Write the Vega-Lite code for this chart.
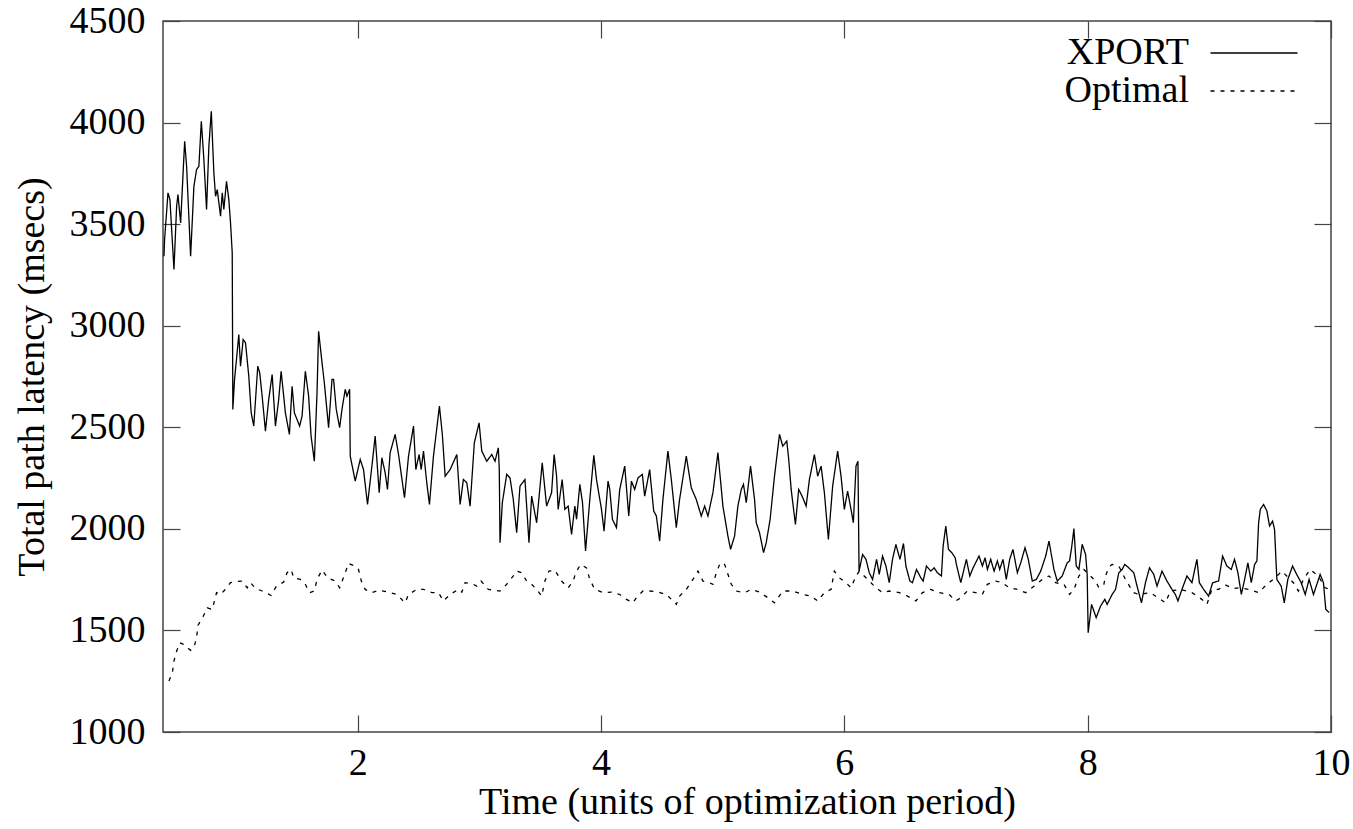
{
  "$schema": "https://vega.github.io/schema/vega-lite/v6.json",
  "autosize": {"type": "none"},
  "padding": {"left": 163, "top": 21, "right": 22, "bottom": 97},
  "width": 1168,
  "height": 711,
  "background": "white",
  "config": {
    "font": "Liberation Serif",
    "view": {"stroke": "#444", "strokeWidth": 1.5},
    "axis": {
      "grid": false,
      "domain": false,
      "tickColor": "#444",
      "tickWidth": 1.2,
      "tickSize": -17,
      "labelFont": "Liberation Serif",
      "labelFontSize": 38,
      "labelColor": "#000",
      "titleFont": "Liberation Serif",
      "titleFontSize": 38,
      "titleFontWeight": "normal",
      "titleColor": "#000"
    },
    "legend": {
      "labelFont": "Liberation Serif",
      "labelFontSize": 38,
      "labelColor": "#000"
    }
  },
  "data": {
    "values": [
      {"t":0.408,"v":3342,"s":"XPORT"},{"t":0.413,"v":3424,"s":"XPORT"},{"t":0.441,"v":3654,"s":"XPORT"},{"t":0.457,"v":3621,"s":"XPORT"},{"t":0.490,"v":3277,"s":"XPORT"},{"t":0.512,"v":3588,"s":"XPORT"},{"t":0.523,"v":3646,"s":"XPORT"},{"t":0.545,"v":3506,"s":"XPORT"},{"t":0.578,"v":3908,"s":"XPORT"},{"t":0.594,"v":3785,"s":"XPORT"},{"t":0.627,"v":3342,"s":"XPORT"},{"t":0.654,"v":3686,"s":"XPORT"},{"t":0.676,"v":3769,"s":"XPORT"},{"t":0.695,"v":3785,"s":"XPORT"},{"t":0.715,"v":4006,"s":"XPORT"},{"t":0.736,"v":3818,"s":"XPORT"},{"t":0.758,"v":3572,"s":"XPORT"},{"t":0.777,"v":3883,"s":"XPORT"},{"t":0.797,"v":4056,"s":"XPORT"},{"t":0.818,"v":3753,"s":"XPORT"},{"t":0.832,"v":3637,"s":"XPORT"},{"t":0.846,"v":3670,"s":"XPORT"},{"t":0.873,"v":3539,"s":"XPORT"},{"t":0.887,"v":3654,"s":"XPORT"},{"t":0.900,"v":3572,"s":"XPORT"},{"t":0.922,"v":3711,"s":"XPORT"},{"t":0.941,"v":3621,"s":"XPORT"},{"t":0.955,"v":3506,"s":"XPORT"},{"t":0.969,"v":3359,"s":"XPORT"},
      {"t":0.974,"v":2588,"s":"XPORT"},{"t":0.988,"v":2736,"s":"XPORT"},{"t":1.004,"v":2834,"s":"XPORT"},{"t":1.023,"v":2957,"s":"XPORT"},{"t":1.037,"v":2801,"s":"XPORT"},{"t":1.059,"v":2932,"s":"XPORT"},{"t":1.078,"v":2916,"s":"XPORT"},{"t":1.105,"v":2752,"s":"XPORT"},{"t":1.125,"v":2571,"s":"XPORT"},{"t":1.146,"v":2506,"s":"XPORT"},{"t":1.179,"v":2801,"s":"XPORT"},{"t":1.195,"v":2768,"s":"XPORT"},{"t":1.215,"v":2653,"s":"XPORT"},{"t":1.242,"v":2481,"s":"XPORT"},{"t":1.269,"v":2637,"s":"XPORT"},{"t":1.297,"v":2760,"s":"XPORT"},{"t":1.324,"v":2506,"s":"XPORT"},{"t":1.351,"v":2637,"s":"XPORT"},{"t":1.371,"v":2776,"s":"XPORT"},{"t":1.406,"v":2571,"s":"XPORT"},{"t":1.439,"v":2465,"s":"XPORT"},{"t":1.461,"v":2702,"s":"XPORT"},{"t":1.480,"v":2571,"s":"XPORT"},{"t":1.523,"v":2506,"s":"XPORT"},{"t":1.543,"v":2555,"s":"XPORT"},{"t":1.570,"v":2776,"s":"XPORT"},{"t":1.597,"v":2653,"s":"XPORT"},{"t":1.617,"v":2457,"s":"XPORT"},{"t":1.644,"v":2333,"s":"XPORT"},{"t":1.666,"v":2670,"s":"XPORT"},{"t":1.679,"v":2973,"s":"XPORT"},{"t":1.707,"v":2818,"s":"XPORT"},{"t":1.726,"v":2719,"s":"XPORT"},{"t":1.761,"v":2498,"s":"XPORT"},{"t":1.789,"v":2736,"s":"XPORT"},{"t":1.802,"v":2736,"s":"XPORT"},{"t":1.824,"v":2588,"s":"XPORT"},{"t":1.852,"v":2498,"s":"XPORT"},{"t":1.871,"v":2588,"s":"XPORT"},{"t":1.898,"v":2687,"s":"XPORT"},{"t":1.912,"v":2653,"s":"XPORT"},{"t":1.934,"v":2687,"s":"XPORT"},{"t":1.939,"v":2358,"s":"XPORT"},{"t":1.961,"v":2292,"s":"XPORT"},{"t":1.980,"v":2235,"s":"XPORT"},{"t":2.021,"v":2342,"s":"XPORT"},{"t":2.048,"v":2292,"s":"XPORT"},{"t":2.081,"v":2120,"s":"XPORT"},
      {"t":2.117,"v":2309,"s":"XPORT"},{"t":2.144,"v":2457,"s":"XPORT"},{"t":2.177,"v":2178,"s":"XPORT"},{"t":2.199,"v":2350,"s":"XPORT"},{"t":2.226,"v":2276,"s":"XPORT"},{"t":2.245,"v":2194,"s":"XPORT"},{"t":2.267,"v":2375,"s":"XPORT"},{"t":2.308,"v":2465,"s":"XPORT"},{"t":2.336,"v":2366,"s":"XPORT"},{"t":2.385,"v":2153,"s":"XPORT"},{"t":2.418,"v":2358,"s":"XPORT"},{"t":2.459,"v":2506,"s":"XPORT"},{"t":2.478,"v":2292,"s":"XPORT"},{"t":2.505,"v":2366,"s":"XPORT"},{"t":2.522,"v":2292,"s":"XPORT"},{"t":2.541,"v":2383,"s":"XPORT"},{"t":2.568,"v":2227,"s":"XPORT"},{"t":2.590,"v":2120,"s":"XPORT"},{"t":2.623,"v":2358,"s":"XPORT"},{"t":2.672,"v":2604,"s":"XPORT"},{"t":2.696,"v":2465,"s":"XPORT"},{"t":2.719,"v":2259,"s":"XPORT"},{"t":2.760,"v":2292,"s":"XPORT"},{"t":2.815,"v":2366,"s":"XPORT"},{"t":2.842,"v":2120,"s":"XPORT"},{"t":2.869,"v":2243,"s":"XPORT"},{"t":2.897,"v":2227,"s":"XPORT"},{"t":2.924,"v":2112,"s":"XPORT"},{"t":2.959,"v":2424,"s":"XPORT"},{"t":2.998,"v":2522,"s":"XPORT"},{"t":3.020,"v":2383,"s":"XPORT"},{"t":3.061,"v":2333,"s":"XPORT"},{"t":3.102,"v":2366,"s":"XPORT"},{"t":3.129,"v":2333,"s":"XPORT"},{"t":3.156,"v":2399,"s":"XPORT"},{"t":3.164,"v":2292,"s":"XPORT"},{"t":3.170,"v":1932,"s":"XPORT"},{"t":3.189,"v":2129,"s":"XPORT"},{"t":3.225,"v":2268,"s":"XPORT"},{"t":3.252,"v":2251,"s":"XPORT"},{"t":3.279,"v":2145,"s":"XPORT"},{"t":3.307,"v":1981,"s":"XPORT"},{"t":3.334,"v":2210,"s":"XPORT"},{"t":3.375,"v":2243,"s":"XPORT"},{"t":3.408,"v":1932,"s":"XPORT"},{"t":3.430,"v":2161,"s":"XPORT"},{"t":3.471,"v":2030,"s":"XPORT"},{"t":3.517,"v":2325,"s":"XPORT"},{"t":3.553,"v":2112,"s":"XPORT"},{"t":3.594,"v":2178,"s":"XPORT"},{"t":3.615,"v":2366,"s":"XPORT"},
      {"t":3.635,"v":2259,"s":"XPORT"},{"t":3.648,"v":2096,"s":"XPORT"},{"t":3.681,"v":2243,"s":"XPORT"},{"t":3.703,"v":2096,"s":"XPORT"},{"t":3.730,"v":2112,"s":"XPORT"},{"t":3.758,"v":1973,"s":"XPORT"},{"t":3.785,"v":2112,"s":"XPORT"},{"t":3.799,"v":2047,"s":"XPORT"},{"t":3.826,"v":2219,"s":"XPORT"},{"t":3.848,"v":2129,"s":"XPORT"},{"t":3.873,"v":1891,"s":"XPORT"},{"t":3.908,"v":2145,"s":"XPORT"},{"t":3.941,"v":2362,"s":"XPORT"},{"t":3.963,"v":2243,"s":"XPORT"},{"t":4.004,"v":2096,"s":"XPORT"},{"t":4.025,"v":1989,"s":"XPORT"},{"t":4.058,"v":2235,"s":"XPORT"},{"t":4.072,"v":2194,"s":"XPORT"},{"t":4.094,"v":2047,"s":"XPORT"},{"t":4.127,"v":2006,"s":"XPORT"},{"t":4.154,"v":2194,"s":"XPORT"},{"t":4.195,"v":2309,"s":"XPORT"},{"t":4.228,"v":2063,"s":"XPORT"},{"t":4.250,"v":2235,"s":"XPORT"},{"t":4.277,"v":2194,"s":"XPORT"},{"t":4.304,"v":2251,"s":"XPORT"},{"t":4.340,"v":2268,"s":"XPORT"},{"t":4.359,"v":2161,"s":"XPORT"},{"t":4.400,"v":2292,"s":"XPORT"},{"t":4.433,"v":2088,"s":"XPORT"},{"t":4.455,"v":2063,"s":"XPORT"},{"t":4.482,"v":1940,"s":"XPORT"},{"t":4.509,"v":2145,"s":"XPORT"},{"t":4.550,"v":2383,"s":"XPORT"},{"t":4.578,"v":2243,"s":"XPORT"},{"t":4.619,"v":2006,"s":"XPORT"},{"t":4.646,"v":2145,"s":"XPORT"},{"t":4.701,"v":2358,"s":"XPORT"},{"t":4.742,"v":2202,"s":"XPORT"},{"t":4.783,"v":2145,"s":"XPORT"},{"t":4.824,"v":2063,"s":"XPORT"},{"t":4.852,"v":2112,"s":"XPORT"},{"t":4.879,"v":2063,"s":"XPORT"},{"t":4.920,"v":2178,"s":"XPORT"},{"t":4.961,"v":2375,"s":"XPORT"},{"t":5.002,"v":2112,"s":"XPORT"},{"t":5.043,"v":1965,"s":"XPORT"},{"t":5.065,"v":1899,"s":"XPORT"},{"t":5.098,"v":1965,"s":"XPORT"},{"t":5.125,"v":2112,"s":"XPORT"},{"t":5.153,"v":2194,"s":"XPORT"},{"t":5.171,"v":2219,"s":"XPORT"},{"t":5.194,"v":2129,"s":"XPORT"},{"t":5.229,"v":2309,"s":"XPORT"},{"t":5.262,"v":2145,"s":"XPORT"},
      {"t":5.276,"v":2030,"s":"XPORT"},{"t":5.303,"v":1981,"s":"XPORT"},{"t":5.336,"v":1883,"s":"XPORT"},{"t":5.358,"v":1932,"s":"XPORT"},{"t":5.390,"v":2047,"s":"XPORT"},{"t":5.426,"v":2259,"s":"XPORT"},{"t":5.467,"v":2465,"s":"XPORT"},{"t":5.494,"v":2407,"s":"XPORT"},{"t":5.527,"v":2432,"s":"XPORT"},{"t":5.543,"v":2342,"s":"XPORT"},{"t":5.563,"v":2194,"s":"XPORT"},{"t":5.598,"v":2022,"s":"XPORT"},{"t":5.625,"v":2194,"s":"XPORT"},{"t":5.653,"v":2161,"s":"XPORT"},{"t":5.686,"v":2112,"s":"XPORT"},{"t":5.713,"v":2243,"s":"XPORT"},{"t":5.754,"v":2366,"s":"XPORT"},{"t":5.781,"v":2259,"s":"XPORT"},{"t":5.809,"v":2309,"s":"XPORT"},{"t":5.836,"v":2178,"s":"XPORT"},{"t":5.869,"v":1948,"s":"XPORT"},{"t":5.904,"v":2210,"s":"XPORT"},{"t":5.945,"v":2383,"s":"XPORT"},{"t":5.973,"v":2259,"s":"XPORT"},{"t":6.000,"v":2096,"s":"XPORT"},{"t":6.027,"v":2186,"s":"XPORT"},{"t":6.055,"v":2096,"s":"XPORT"},{"t":6.074,"v":2030,"s":"XPORT"},{"t":6.096,"v":2309,"s":"XPORT"},{"t":6.112,"v":2333,"s":"XPORT"},{"t":6.121,"v":1792,"s":"XPORT"},{"t":6.150,"v":1874,"s":"XPORT"},{"t":6.178,"v":1850,"s":"XPORT"},{"t":6.205,"v":1784,"s":"XPORT"},{"t":6.232,"v":1751,"s":"XPORT"},{"t":6.265,"v":1850,"s":"XPORT"},{"t":6.287,"v":1776,"s":"XPORT"},{"t":6.314,"v":1866,"s":"XPORT"},{"t":6.342,"v":1817,"s":"XPORT"},{"t":6.369,"v":1735,"s":"XPORT"},{"t":6.396,"v":1850,"s":"XPORT"},{"t":6.424,"v":1923,"s":"XPORT"},{"t":6.457,"v":1850,"s":"XPORT"},{"t":6.486,"v":1928,"s":"XPORT"},{"t":6.506,"v":1817,"s":"XPORT"},{"t":6.539,"v":1743,"s":"XPORT"},{"t":6.560,"v":1735,"s":"XPORT"},{"t":6.593,"v":1800,"s":"XPORT"},{"t":6.629,"v":1759,"s":"XPORT"},{"t":6.648,"v":1743,"s":"XPORT"},{"t":6.675,"v":1817,"s":"XPORT"},{"t":6.711,"v":1792,"s":"XPORT"},{"t":6.738,"v":1808,"s":"XPORT"},{"t":6.765,"v":1784,"s":"XPORT"},{"t":6.798,"v":1768,"s":"XPORT"},{"t":6.812,"v":1915,"s":"XPORT"},{"t":6.834,"v":2014,"s":"XPORT"},{"t":6.856,"v":1899,"s":"XPORT"},{"t":6.883,"v":1883,"s":"XPORT"},{"t":6.911,"v":1858,"s":"XPORT"},
      {"t":6.921,"v":1825,"s":"XPORT"},{"t":6.957,"v":1735,"s":"XPORT"},{"t":7.003,"v":1850,"s":"XPORT"},{"t":7.031,"v":1768,"s":"XPORT"},{"t":7.058,"v":1808,"s":"XPORT"},{"t":7.107,"v":1866,"s":"XPORT"},{"t":7.135,"v":1817,"s":"XPORT"},{"t":7.157,"v":1858,"s":"XPORT"},{"t":7.176,"v":1800,"s":"XPORT"},{"t":7.203,"v":1850,"s":"XPORT"},{"t":7.231,"v":1792,"s":"XPORT"},{"t":7.258,"v":1842,"s":"XPORT"},{"t":7.277,"v":1800,"s":"XPORT"},{"t":7.304,"v":1850,"s":"XPORT"},{"t":7.331,"v":1751,"s":"XPORT"},{"t":7.359,"v":1850,"s":"XPORT"},{"t":7.386,"v":1899,"s":"XPORT"},{"t":7.422,"v":1784,"s":"XPORT"},{"t":7.450,"v":1833,"s":"XPORT"},{"t":7.485,"v":1907,"s":"XPORT"},{"t":7.512,"v":1850,"s":"XPORT"},{"t":7.545,"v":1743,"s":"XPORT"},{"t":7.578,"v":1751,"s":"XPORT"},{"t":7.614,"v":1792,"s":"XPORT"},{"t":7.655,"v":1866,"s":"XPORT"},{"t":7.682,"v":1940,"s":"XPORT"},{"t":7.723,"v":1800,"s":"XPORT"},{"t":7.750,"v":1743,"s":"XPORT"},{"t":7.791,"v":1768,"s":"XPORT"},{"t":7.832,"v":1833,"s":"XPORT"},{"t":7.851,"v":1842,"s":"XPORT"},{"t":7.868,"v":1907,"s":"XPORT"},{"t":7.887,"v":2001,"s":"XPORT"},{"t":7.906,"v":1817,"s":"XPORT"},{"t":7.928,"v":1800,"s":"XPORT"},{"t":7.955,"v":1924,"s":"XPORT"},{"t":7.983,"v":1874,"s":"XPORT"},{"t":7.996,"v":1776,"s":"XPORT"},{"t":8.004,"v":1489,"s":"XPORT"},{"t":8.032,"v":1628,"s":"XPORT"},{"t":8.070,"v":1563,"s":"XPORT"},{"t":8.106,"v":1620,"s":"XPORT"},{"t":8.141,"v":1653,"s":"XPORT"},{"t":8.160,"v":1628,"s":"XPORT"},{"t":8.201,"v":1677,"s":"XPORT"},{"t":8.229,"v":1702,"s":"XPORT"},{"t":8.256,"v":1784,"s":"XPORT"},{"t":8.283,"v":1800,"s":"XPORT"},{"t":8.305,"v":1825,"s":"XPORT"},{"t":8.338,"v":1808,"s":"XPORT"},{"t":8.379,"v":1784,"s":"XPORT"},{"t":8.406,"v":1718,"s":"XPORT"},
      {"t":8.442,"v":1636,"s":"XPORT"},{"t":8.475,"v":1735,"s":"XPORT"},{"t":8.508,"v":1808,"s":"XPORT"},{"t":8.543,"v":1776,"s":"XPORT"},{"t":8.570,"v":1718,"s":"XPORT"},{"t":8.611,"v":1792,"s":"XPORT"},{"t":8.652,"v":1743,"s":"XPORT"},{"t":8.693,"v":1702,"s":"XPORT"},{"t":8.721,"v":1677,"s":"XPORT"},{"t":8.742,"v":1645,"s":"XPORT"},{"t":8.775,"v":1702,"s":"XPORT"},{"t":8.816,"v":1768,"s":"XPORT"},{"t":8.857,"v":1735,"s":"XPORT"},{"t":8.898,"v":1850,"s":"XPORT"},{"t":8.918,"v":1735,"s":"XPORT"},{"t":8.953,"v":1702,"s":"XPORT"},{"t":8.994,"v":1669,"s":"XPORT"},{"t":9.027,"v":1735,"s":"XPORT"},{"t":9.076,"v":1743,"s":"XPORT"},{"t":9.109,"v":1866,"s":"XPORT"},{"t":9.144,"v":1817,"s":"XPORT"},{"t":9.180,"v":1800,"s":"XPORT"},{"t":9.207,"v":1850,"s":"XPORT"},{"t":9.235,"v":1784,"s":"XPORT"},{"t":9.263,"v":1677,"s":"XPORT"},{"t":9.290,"v":1751,"s":"XPORT"},{"t":9.317,"v":1833,"s":"XPORT"},{"t":9.345,"v":1735,"s":"XPORT"},{"t":9.372,"v":1825,"s":"XPORT"},{"t":9.391,"v":1842,"s":"XPORT"},{"t":9.405,"v":2030,"s":"XPORT"},{"t":9.419,"v":2096,"s":"XPORT"},{"t":9.446,"v":2120,"s":"XPORT"},{"t":9.473,"v":2088,"s":"XPORT"},{"t":9.495,"v":2014,"s":"XPORT"},{"t":9.520,"v":2038,"s":"XPORT"},{"t":9.536,"v":1997,"s":"XPORT"},{"t":9.555,"v":1751,"s":"XPORT"},{"t":9.591,"v":1718,"s":"XPORT"},{"t":9.616,"v":1636,"s":"XPORT"},{"t":9.645,"v":1751,"s":"XPORT"},{"t":9.684,"v":1817,"s":"XPORT"},{"t":9.718,"v":1776,"s":"XPORT"},{"t":9.755,"v":1735,"s":"XPORT"},{"t":9.788,"v":1677,"s":"XPORT"},{"t":9.820,"v":1751,"s":"XPORT"},{"t":9.856,"v":1677,"s":"XPORT"},{"t":9.911,"v":1776,"s":"XPORT"},{"t":9.938,"v":1735,"s":"XPORT"},{"t":9.957,"v":1604,"s":"XPORT"},{"t":9.985,"v":1588,"s":"XPORT"},
      {"t":0.449,"v":1251,"s":"Optimal"},{"t":0.477,"v":1292,"s":"Optimal"},{"t":0.490,"v":1349,"s":"Optimal"},{"t":0.512,"v":1398,"s":"Optimal"},{"t":0.539,"v":1439,"s":"Optimal"},{"t":0.572,"v":1431,"s":"Optimal"},{"t":0.600,"v":1415,"s":"Optimal"},{"t":0.627,"v":1402,"s":"Optimal"},{"t":0.654,"v":1415,"s":"Optimal"},{"t":0.676,"v":1464,"s":"Optimal"},{"t":0.687,"v":1525,"s":"Optimal"},{"t":0.731,"v":1570,"s":"Optimal"},{"t":0.764,"v":1611,"s":"Optimal"},{"t":0.805,"v":1603,"s":"Optimal"},{"t":0.840,"v":1686,"s":"Optimal"},{"t":0.873,"v":1677,"s":"Optimal"},{"t":0.906,"v":1698,"s":"Optimal"},{"t":0.955,"v":1735,"s":"Optimal"},{"t":1.010,"v":1741,"s":"Optimal"},{"t":1.051,"v":1743,"s":"Optimal"},{"t":1.092,"v":1710,"s":"Optimal"},{"t":1.119,"v":1735,"s":"Optimal"},{"t":1.160,"v":1707,"s":"Optimal"},{"t":1.215,"v":1694,"s":"Optimal"},{"t":1.256,"v":1682,"s":"Optimal"},{"t":1.289,"v":1672,"s":"Optimal"},{"t":1.332,"v":1718,"s":"Optimal"},{"t":1.392,"v":1738,"s":"Optimal"},{"t":1.420,"v":1784,"s":"Optimal"},{"t":1.453,"v":1800,"s":"Optimal"},{"t":1.474,"v":1759,"s":"Optimal"},{"t":1.529,"v":1751,"s":"Optimal"},{"t":1.570,"v":1727,"s":"Optimal"},{"t":1.605,"v":1686,"s":"Optimal"},{"t":1.644,"v":1694,"s":"Optimal"},{"t":1.666,"v":1751,"s":"Optimal"},{"t":1.707,"v":1797,"s":"Optimal"},{"t":1.753,"v":1759,"s":"Optimal"},{"t":1.816,"v":1743,"s":"Optimal"},{"t":1.852,"v":1710,"s":"Optimal"},
      {"t":1.898,"v":1784,"s":"Optimal"},{"t":1.925,"v":1830,"s":"Optimal"},{"t":1.966,"v":1820,"s":"Optimal"},{"t":2.007,"v":1800,"s":"Optimal"},{"t":2.030,"v":1743,"s":"Optimal"},{"t":2.062,"v":1702,"s":"Optimal"},{"t":2.117,"v":1686,"s":"Optimal"},{"t":2.171,"v":1698,"s":"Optimal"},{"t":2.253,"v":1688,"s":"Optimal"},{"t":2.322,"v":1677,"s":"Optimal"},{"t":2.390,"v":1636,"s":"Optimal"},{"t":2.418,"v":1677,"s":"Optimal"},{"t":2.486,"v":1702,"s":"Optimal"},{"t":2.541,"v":1702,"s":"Optimal"},{"t":2.610,"v":1686,"s":"Optimal"},{"t":2.664,"v":1686,"s":"Optimal"},{"t":2.705,"v":1645,"s":"Optimal"},{"t":2.760,"v":1677,"s":"Optimal"},{"t":2.828,"v":1702,"s":"Optimal"},{"t":2.856,"v":1688,"s":"Optimal"},{"t":2.883,"v":1735,"s":"Optimal"},{"t":2.938,"v":1731,"s":"Optimal"},{"t":2.979,"v":1718,"s":"Optimal"},{"t":3.014,"v":1743,"s":"Optimal"},{"t":3.074,"v":1702,"s":"Optimal"},{"t":3.170,"v":1694,"s":"Optimal"},{"t":3.225,"v":1727,"s":"Optimal"},{"t":3.279,"v":1768,"s":"Optimal"},{"t":3.307,"v":1792,"s":"Optimal"},{"t":3.348,"v":1784,"s":"Optimal"},{"t":3.389,"v":1743,"s":"Optimal"},{"t":3.430,"v":1727,"s":"Optimal"},{"t":3.471,"v":1702,"s":"Optimal"},{"t":3.512,"v":1669,"s":"Optimal"},{"t":3.539,"v":1743,"s":"Optimal"},{"t":3.572,"v":1792,"s":"Optimal"},{"t":3.621,"v":1796,"s":"Optimal"},
      {"t":3.676,"v":1743,"s":"Optimal"},{"t":3.730,"v":1710,"s":"Optimal"},{"t":3.771,"v":1743,"s":"Optimal"},{"t":3.793,"v":1784,"s":"Optimal"},{"t":3.832,"v":1825,"s":"Optimal"},{"t":3.881,"v":1808,"s":"Optimal"},{"t":3.908,"v":1751,"s":"Optimal"},{"t":3.949,"v":1702,"s":"Optimal"},{"t":4.017,"v":1686,"s":"Optimal"},{"t":4.086,"v":1689,"s":"Optimal"},{"t":4.154,"v":1677,"s":"Optimal"},{"t":4.209,"v":1653,"s":"Optimal"},{"t":4.263,"v":1636,"s":"Optimal"},{"t":4.291,"v":1661,"s":"Optimal"},{"t":4.345,"v":1694,"s":"Optimal"},{"t":4.400,"v":1694,"s":"Optimal"},{"t":4.468,"v":1689,"s":"Optimal"},{"t":4.537,"v":1677,"s":"Optimal"},{"t":4.578,"v":1653,"s":"Optimal"},{"t":4.619,"v":1628,"s":"Optimal"},{"t":4.646,"v":1669,"s":"Optimal"},{"t":4.701,"v":1702,"s":"Optimal"},{"t":4.756,"v":1751,"s":"Optimal"},{"t":4.797,"v":1792,"s":"Optimal"},{"t":4.838,"v":1743,"s":"Optimal"},{"t":4.879,"v":1738,"s":"Optimal"},{"t":4.920,"v":1727,"s":"Optimal"},{"t":4.948,"v":1784,"s":"Optimal"},{"t":4.980,"v":1833,"s":"Optimal"},{"t":5.016,"v":1825,"s":"Optimal"},{"t":5.071,"v":1727,"s":"Optimal"},{"t":5.112,"v":1694,"s":"Optimal"},{"t":5.180,"v":1686,"s":"Optimal"},{"t":5.235,"v":1702,"s":"Optimal"},
      {"t":5.303,"v":1689,"s":"Optimal"},{"t":5.371,"v":1661,"s":"Optimal"},{"t":5.426,"v":1636,"s":"Optimal"},{"t":5.494,"v":1694,"s":"Optimal"},{"t":5.576,"v":1694,"s":"Optimal"},{"t":5.658,"v":1677,"s":"Optimal"},{"t":5.727,"v":1669,"s":"Optimal"},{"t":5.781,"v":1645,"s":"Optimal"},{"t":5.836,"v":1686,"s":"Optimal"},{"t":5.891,"v":1702,"s":"Optimal"},{"t":5.918,"v":1792,"s":"Optimal"},{"t":5.959,"v":1759,"s":"Optimal"},{"t":6.014,"v":1735,"s":"Optimal"},{"t":6.055,"v":1710,"s":"Optimal"},{"t":6.096,"v":1768,"s":"Optimal"},{"t":6.123,"v":1792,"s":"Optimal"},{"t":6.191,"v":1751,"s":"Optimal"},{"t":6.260,"v":1710,"s":"Optimal"},{"t":6.314,"v":1686,"s":"Optimal"},{"t":6.369,"v":1694,"s":"Optimal"},{"t":6.451,"v":1686,"s":"Optimal"},{"t":6.519,"v":1669,"s":"Optimal"},{"t":6.588,"v":1645,"s":"Optimal"},{"t":6.642,"v":1686,"s":"Optimal"},{"t":6.711,"v":1702,"s":"Optimal"},{"t":6.779,"v":1686,"s":"Optimal"},{"t":6.861,"v":1677,"s":"Optimal"},{"t":6.916,"v":1645,"s":"Optimal"},
      {"t":6.957,"v":1661,"s":"Optimal"},{"t":7.011,"v":1694,"s":"Optimal"},{"t":7.080,"v":1686,"s":"Optimal"},{"t":7.134,"v":1677,"s":"Optimal"},{"t":7.175,"v":1727,"s":"Optimal"},{"t":7.244,"v":1743,"s":"Optimal"},{"t":7.299,"v":1735,"s":"Optimal"},{"t":7.354,"v":1710,"s":"Optimal"},{"t":7.422,"v":1702,"s":"Optimal"},{"t":7.491,"v":1686,"s":"Optimal"},{"t":7.559,"v":1718,"s":"Optimal"},{"t":7.627,"v":1751,"s":"Optimal"},{"t":7.682,"v":1768,"s":"Optimal"},{"t":7.736,"v":1735,"s":"Optimal"},{"t":7.805,"v":1727,"s":"Optimal"},{"t":7.851,"v":1677,"s":"Optimal"},{"t":7.887,"v":1702,"s":"Optimal"},{"t":7.928,"v":1768,"s":"Optimal"},{"t":7.969,"v":1800,"s":"Optimal"},{"t":8.065,"v":1743,"s":"Optimal"},{"t":8.092,"v":1710,"s":"Optimal"},{"t":8.133,"v":1727,"s":"Optimal"},{"t":8.147,"v":1768,"s":"Optimal"},{"t":8.174,"v":1812,"s":"Optimal"},{"t":8.201,"v":1825,"s":"Optimal"},{"t":8.256,"v":1817,"s":"Optimal"},{"t":8.311,"v":1751,"s":"Optimal"},{"t":8.352,"v":1710,"s":"Optimal"},{"t":8.379,"v":1686,"s":"Optimal"},
      {"t":8.420,"v":1677,"s":"Optimal"},{"t":8.516,"v":1686,"s":"Optimal"},{"t":8.598,"v":1653,"s":"Optimal"},{"t":8.639,"v":1636,"s":"Optimal"},{"t":8.680,"v":1694,"s":"Optimal"},{"t":8.762,"v":1702,"s":"Optimal"},{"t":8.857,"v":1686,"s":"Optimal"},{"t":8.939,"v":1653,"s":"Optimal"},{"t":8.980,"v":1628,"s":"Optimal"},{"t":9.021,"v":1702,"s":"Optimal"},{"t":9.076,"v":1702,"s":"Optimal"},{"t":9.131,"v":1724,"s":"Optimal"},{"t":9.199,"v":1706,"s":"Optimal"},{"t":9.240,"v":1710,"s":"Optimal"},{"t":9.322,"v":1702,"s":"Optimal"},{"t":9.404,"v":1686,"s":"Optimal"},{"t":9.473,"v":1727,"s":"Optimal"},{"t":9.541,"v":1759,"s":"Optimal"},{"t":9.596,"v":1792,"s":"Optimal"},{"t":9.651,"v":1759,"s":"Optimal"},{"t":9.691,"v":1735,"s":"Optimal"},{"t":9.732,"v":1694,"s":"Optimal"},{"t":9.773,"v":1751,"s":"Optimal"},{"t":9.828,"v":1800,"s":"Optimal"},{"t":9.896,"v":1768,"s":"Optimal"},{"t":9.951,"v":1710,"s":"Optimal"},{"t":9.992,"v":1702,"s":"Optimal"}
    ]
  },
  "layer": [
    {
      "mark": {"type": "line", "color": "#000", "strokeWidth": 1.3, "clip": true},
      "encoding": {
        "x": {
          "field": "t", "type": "quantitative",
          "scale": {"domain": [0.4, 10], "nice": false, "zero": false},
          "axis": {"values": [2, 4, 6, 8, 10], "format": "d", "labelPadding": 29, "titlePadding": 1, "title": "Time (units of optimization period)", "labelFlush": false}
        },
        "y": {
          "field": "v", "type": "quantitative",
          "scale": {"domain": [1000, 4500], "nice": false, "zero": false},
          "axis": {"values": [1000, 1500, 2000, 2500, 3000, 3500, 4000, 4500], "format": "d", "labelPadding": 35, "titlePadding": 18, "title": "Total path latency (msecs)"}
        },
        "strokeDash": {
          "field": "s", "type": "nominal",
          "scale": {"domain": ["XPORT", "Optimal"], "range": [[1, 0], [4, 6]]},
          "legend": {
            "title": null,
            "orient": "none",
            "legendX": 1072,
            "legendY": 13,
            "padding": 0,
            "symbolType": "M-3.222,0H3.222",
            "symbolSize": 729,
            "symbolStrokeWidth": 1.3,
            "symbolStrokeColor": "#000",
            "symbolFillColor": "transparent",
            "rowPadding": 0,
            "labelAlign": "right",
            "labelOffset": -84,
            "labelLimit": 400
          }
        }
      }
    },
    {
      "mark": {"type": "line", "opacity": 0},
      "encoding": {
        "x": {"field": "t", "type": "quantitative", "axis": {"orient": "top", "values": [2, 4, 6, 8, 10], "labels": false, "title": null}},
        "y": {"field": "v", "type": "quantitative", "axis": {"orient": "right", "values": [1000, 1500, 2000, 2500, 3000, 3500, 4000, 4500], "labels": false, "title": null}},
        "detail": {"field": "s"}
      }
    }
  ],
  "resolve": {"axis": {"x": "independent", "y": "independent"}}
}
